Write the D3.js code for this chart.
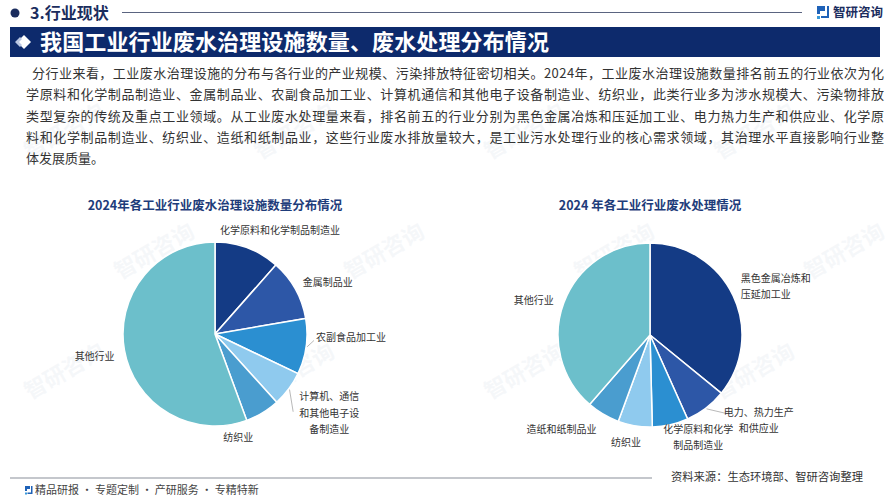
<!DOCTYPE html>
<html>
<head>
<meta charset="utf-8">
<script src="https://cdn.jsdelivr.net/npm/d3@7"></script>
<style>
  body { margin: 0; background: #fff; }
  text { font-family: "Noto Sans CJK SC", "Noto Sans", sans-serif; }
</style>
</head>
<body>
<div id="wrapper"></div>
<script>
// 左图：各工业行业废水治理设施数量分布（%，读图估计）
const leftLabels = [
  "化学原料和化学制品制造业",
  "金属制品业",
  "农副食品加工业",
  "计算机、通信和其他电子设备制造业",
  "纺织业",
  "其他行业",
];
const leftValues = [11.5, 10.8, 9.8, 6.2, 6.1, 55.6];

// 右图：各工业行业废水处理情况（%，读图估计）
const rightLabels = [
  "黑色金属冶炼和压延加工业",
  "电力、热力生产和供应业",
  "化学原料和化学制品制造业",
  "纺织业",
  "造纸和纸制品业",
  "其他行业",
];
const rightValues = [35.9, 7.4, 6.3, 6.0, 5.8, 38.6];

const paragraphLines = [
  "分行业来看，工业废水治理设施的分布与各行业的产业规模、污染排放特征密切相关。2024年，工业废水治理设施数量排名前五的行业依次为化",
  "学原料和化学制品制造业、金属制品业、农副食品加工业、计算机通信和其他电子设备制造业、纺织业，此类行业多为涉水规模大、污染物排放",
  "类型复杂的传统及重点工业领域。从工业废水处理量来看，排名前五的行业分别为黑色金属冶炼和压延加工业、电力热力生产和供应业、化学原",
  "料和化学制品制造业、纺织业、造纸和纸制品业，这些行业废水排放量较大，是工业污水处理行业的核心需求领域，其治理水平直接影响行业整",
  "体发展质量。",
];

function drawChart() {
  const width = 892;
  const height = 500;
  const sliceColors = ["#143b85", "#2d57a7", "#2b8fd1", "#8fcaee", "#4a9dcf", "#6cbfcb"];

  const svg = d3
    .select("#wrapper")
    .append("svg")
    .attr("width", width)
    .attr("height", height);

  // 水印（很淡）
  const wm = svg.append("g").attr("fill", "#e3e9f0").attr("fill-opacity", 0.35);
  d3.range(3).map((row) => {
    d3.range(4).map((col) => {
      wm.append("text")
        .attr("transform", `translate(${30 + col * 230 + (row % 2) * 90}, ${160 + row * 120}) rotate(-30)`)
        .attr("font-size", 22)
        .attr("font-weight", "bold")
        .text("智研咨询");
    });
  });

  // 顶部栏
  svg.append("circle").attr("cx", 15).attr("cy", 13).attr("r", 4.5).attr("fill", "#1b2d5e");
  svg.append("text")
    .attr("x", 30).attr("y", 13).attr("dy", "0.35em")
    .attr("font-size", 16).attr("font-weight", "bold").attr("fill", "#1b2d5e")
    .text("3.行业现状");
  svg.append("line")
    .attr("x1", 122).attr("x2", 802).attr("y1", 12.5).attr("y2", 12.5)
    .attr("stroke", "#5a6480").attr("stroke-width", 1);

  // logo
  const logo = svg.append("g").attr("transform", "translate(817, 6)");
  logo.append("path").attr("d", "M0,0 H8 V5 H3 V8 H0 Z").attr("fill", "#1f62b8");
  logo.append("path").attr("d", "M10,0 H12 V12 H4 V10 H10 Z").attr("fill", "#1f62b8");
  logo.append("rect").attr("x", 0).attr("y", 10).attr("width", 3).attr("height", 3).attr("fill", "#3a9ad9");
  svg.append("text")
    .attr("x", 833).attr("y", 12.5).attr("dy", "0.35em")
    .attr("font-size", 12.5).attr("font-weight", "bold").attr("fill", "#1b2d5e")
    .text("智研咨询");

  // 标题条
  svg.append("rect").attr("x", 10).attr("y", 27).attr("width", 870).attr("height", 30).attr("fill", "#0d2a6c");
  svg.append("path").attr("d", "M17,42 L24,35 L31,42 L24,49 Z").attr("fill", "#ffffff");
  svg.append("path").attr("d", "M15,42 L20,37 L22,39 L19,42 L22,45 L20,47 Z").attr("fill", "#b9c6e2");
  svg.append("text")
    .attr("x", 40).attr("y", 42).attr("dy", "0.36em")
    .attr("font-size", 22).attr("font-weight", "bold").attr("fill", "#ffffff")
    .attr("textLength", 509).attr("lengthAdjust", "spacing")
    .text("我国工业行业废水治理设施数量、废水处理分布情况");

  // 正文段落
  const lineY = [73.5, 94.8, 116, 137.2, 158.5];
  paragraphLines.map((line, i) => {
    const x0 = i == 0 ? 32 : 26;
    const t = svg.append("text")
      .attr("x", x0).attr("y", lineY[i]).attr("dy", "0.36em")
      .attr("font-size", 13).attr("fill", "#333333")
      .text(line);
    if (i < paragraphLines.length - 1) {
      t.attr("textLength", 884 - x0).attr("lengthAdjust", "spacing");
    }
  });

  // 饼图
  const radius = 92;
  const pie = d3.pie().sort(null);
  const arc = d3.arc().innerRadius(0).outerRadius(radius);

  const polar = (angle, r) => [Math.sin(angle) * r, -Math.cos(angle) * r];

  function drawPie(cx, cy, title, labels, values, labelOpts) {
    const g = svg.append("g").attr("transform", `translate(${cx}, ${cy})`);

    svg.append("text")
      .attr("x", cx).attr("y", 205).attr("dy", "0.36em")
      .attr("text-anchor", "middle")
      .attr("font-size", 12.5).attr("font-weight", "bold").attr("fill", "#1e3c7a")
      .text(title);

    const arcs = pie(values);
    g.selectAll("path")
      .data(arcs)
      .join("path")
      .attr("d", arc)
      .attr("fill", (d, i) => sliceColors[i])
      .attr("stroke", "#ffffff")
      .attr("stroke-width", 1.5);

    arcs.map((d, i) => {
      const opt = labelOpts[i];
      const mid = (d.startAngle + d.endAngle) / 2;
      const [lx, ly] = polar(mid, radius + 13);
      const x = lx + opt.dx;
      const y = ly + opt.dy;

      if (opt.leader) {
        const [ex, ey] = polar(mid, radius + 1);
        g.append("line")
          .attr("x1", ex).attr("y1", ey)
          .attr("x2", x + opt.leader[0]).attr("y2", y + opt.leader[1])
          .attr("stroke", "#a6a6a6").attr("stroke-width", 0.8);
      }

      const t = g.append("text")
        .attr("x", x).attr("y", y)
        .attr("text-anchor", opt.anchor)
        .attr("font-size", 10).attr("fill", "#333333");
      opt.lines.map((s, k) => {
        t.append("tspan")
          .attr("x", x)
          .attr("dy", k == 0 ? "0.35em" : "1.65em")
          .text(s);
      });
    });
  }

  drawPie(215, 334, "2024年各工业行业废水治理设施数量分布情况", leftLabels, leftValues, [
    { anchor: "start", dx: -32, dy: -5, lines: [leftLabels[0]] },
    { anchor: "start", dx: -4, dy: 0, lines: [leftLabels[1]] },
    { anchor: "start", dx: -3, dy: -11, lines: [leftLabels[2]], leader: [-2, 3] },
    { anchor: "middle", dx: 30, dy: 0, lines: ["计算机、通信", "和其他电子设", "备制造业"], leader: [-36, 15] },
    { anchor: "middle", dx: -31, dy: 14, lines: [leftLabels[4]] },
    { anchor: "end", dx: 3, dy: 4, lines: [leftLabels[5]] },
  ]);

  drawPie(650, 335, "2024 年各工业行业废水处理情况", rightLabels, rightValues, [
    { anchor: "start", dx: -4, dy: -12, lines: ["黑色金属冶炼和", "压延加工业"] },
    { anchor: "middle", dx: 45, dy: -6, lines: ["电力、热力生产", "和供应业"], leader: [-33, 1] },
    { anchor: "middle", dx: 25, dy: -8, lines: ["化学原料和化学", "制品制造业"] },
    { anchor: "middle", dx: -7, dy: 4, lines: [rightLabels[3]] },
    { anchor: "end", dx: 0, dy: 4, lines: [rightLabels[4]] },
    { anchor: "end", dx: 2, dy: 2, lines: [rightLabels[5]] },
  ]);

  // 底部
  svg.append("line")
    .attr("x1", 10).attr("x2", 652).attr("y1", 478).attr("y2", 478)
    .attr("stroke", "#8a8f99").attr("stroke-width", 1.2);
  svg.append("text")
    .attr("x", 863).attr("y", 477.5).attr("dy", "0.35em")
    .attr("text-anchor", "end")
    .attr("font-size", 11.3).attr("fill", "#333333")
    .text("资料来源：生态环境部、智研咨询整理");

  const flogo = svg.append("g").attr("transform", "translate(25, 486)");
  flogo.append("path").attr("d", "M0,0 H5 V3 H2 V5 H0 Z").attr("fill", "#1f62b8");
  flogo.append("path").attr("d", "M6,0 H7.5 V8 H2.5 V6.5 H6 Z").attr("fill", "#1f62b8");
  flogo.append("rect").attr("x", 0).attr("y", 6.5).attr("width", 2).attr("height", 2).attr("fill", "#3a9ad9");
  svg.append("text")
    .attr("x", 35).attr("y", 490.5).attr("dy", "0.35em")
    .attr("font-size", 11).attr("fill", "#444444")
    .text("精品研报 · 专题定制 · 产研服务 · 专精特新");
}

drawChart();
</script>
</body>
</html>
